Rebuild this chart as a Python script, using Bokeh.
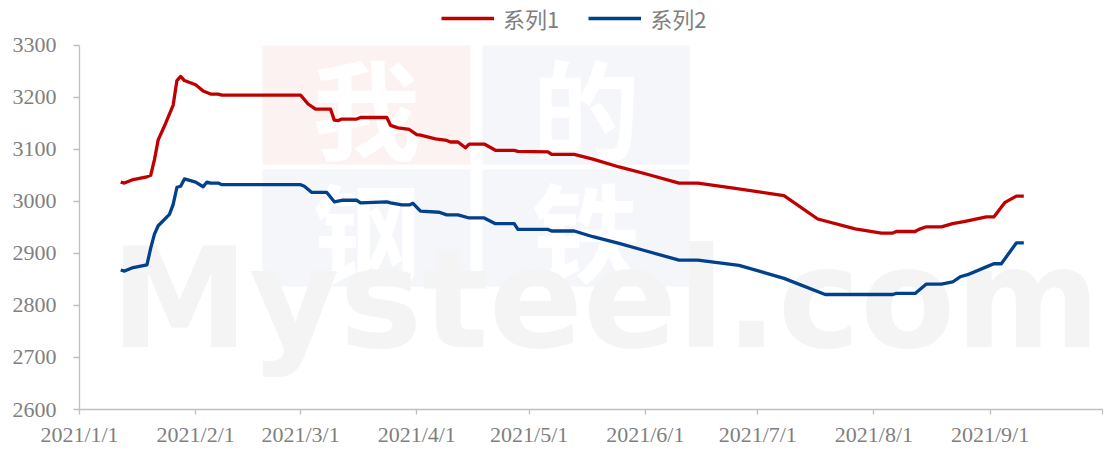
import pandas as pd
from bokeh.plotting import figure
from bokeh.models import (FixedTicker, Legend, LegendItem, BoxAnnotation, Label, Range1d)
from bokeh.embed import file_html
from bokeh.resources import INLINE

series_names = ["系列1", "系列2"]

series1_dates = ["2021-01-12", "2021-01-13", "2021-01-15", "2021-01-19", "2021-01-20", "2021-01-21",
                 "2021-01-22", "2021-01-24", "2021-01-26", "2021-01-27", "2021-01-28", "2021-01-29",
                 "2021-02-01", "2021-02-03", "2021-02-05", "2021-02-07", "2021-02-08", "2021-03-01",
                 "2021-03-03", "2021-03-05", "2021-03-09", "2021-03-10", "2021-03-11", "2021-03-12",
                 "2021-03-16", "2021-03-17", "2021-03-24", "2021-03-25", "2021-03-27", "2021-03-30",
                 "2021-04-01", "2021-04-02", "2021-04-06", "2021-04-09", "2021-04-10", "2021-04-12",
                 "2021-04-14", "2021-04-15", "2021-04-19", "2021-04-22", "2021-04-27", "2021-04-28",
                 "2021-05-06", "2021-05-07", "2021-05-13", "2021-05-18", "2021-05-25", "2021-06-01",
                 "2021-06-10", "2021-06-15", "2021-06-25", "2021-07-08", "2021-07-17", "2021-07-27",
                 "2021-08-03", "2021-08-06", "2021-08-07", "2021-08-12", "2021-08-13", "2021-08-15",
                 "2021-08-19", "2021-08-22", "2021-08-25", "2021-08-31", "2021-09-02", "2021-09-05",
                 "2021-09-08", "2021-09-10"]
series1_values = [3037, 3035, 3041, 3047, 3050, 3080,
                  3118, 3150, 3185, 3232, 3240, 3232,
                  3224, 3212, 3206, 3206, 3204, 3204,
                  3187, 3177, 3177, 3156, 3155, 3158,
                  3158, 3161, 3161, 3146, 3141, 3138,
                  3128, 3127, 3120, 3117, 3114, 3114,
                  3103, 3110, 3110, 3098, 3098, 3096,
                  3095, 3090, 3090, 3081, 3066, 3053,
                  3035, 3035, 3025, 3011, 2966, 2947,
                  2939, 2939, 2942, 2942, 2946, 2951,
                  2951, 2957, 2961, 2970, 2970, 2998,
                  3010, 3010]

series2_dates = ["2021-01-12", "2021-01-13", "2021-01-15", "2021-01-19", "2021-01-20", "2021-01-21",
                 "2021-01-22", "2021-01-25", "2021-01-26", "2021-01-27", "2021-01-28", "2021-01-29",
                 "2021-02-01", "2021-02-03", "2021-02-04", "2021-02-05", "2021-02-07", "2021-02-08",
                 "2021-03-01", "2021-03-02", "2021-03-04", "2021-03-08", "2021-03-10", "2021-03-12",
                 "2021-03-16", "2021-03-17", "2021-03-24", "2021-03-25", "2021-03-28", "2021-03-30",
                 "2021-03-31", "2021-04-02", "2021-04-07", "2021-04-09", "2021-04-12", "2021-04-15",
                 "2021-04-19", "2021-04-22", "2021-04-27", "2021-04-28", "2021-05-06", "2021-05-07",
                 "2021-05-13", "2021-05-18", "2021-05-25", "2021-06-01", "2021-06-10", "2021-06-15",
                 "2021-06-26", "2021-07-08", "2021-07-19", "2021-08-06", "2021-08-07", "2021-08-12",
                 "2021-08-15", "2021-08-19", "2021-08-22", "2021-08-24", "2021-08-26", "2021-08-31",
                 "2021-09-02", "2021-09-04", "2021-09-08", "2021-09-10"]
series2_values = [2868, 2866, 2872, 2878, 2910, 2937,
                  2953, 2975, 2994, 3027, 3029, 3043,
                  3037, 3028, 3037, 3035, 3035, 3032,
                  3032, 3029, 3017, 3017, 2999, 3002,
                  3002, 2997, 2999, 2997, 2993, 2993,
                  2996, 2981, 2979, 2974, 2974, 2968,
                  2968, 2957, 2957, 2946, 2946, 2943,
                  2943, 2932, 2919, 2905, 2887, 2887,
                  2877, 2852, 2821, 2821, 2823, 2823,
                  2841, 2841, 2845, 2855, 2859, 2874,
                  2880, 2880, 2920, 2920]

x_tick_dates = ["2021-01-01", "2021-02-01", "2021-03-01", "2021-04-01", "2021-05-01",
                "2021-06-01", "2021-07-01", "2021-08-01", "2021-09-01", "2021-10-01"]
x_tick_labels = ["2021/1/1", "2021/2/1", "2021/3/1", "2021/4/1", "2021/5/1",
                 "2021/6/1", "2021/7/1", "2021/8/1", "2021/9/1", ""]
y_ticks = [2600, 2700, 2800, 2900, 3000, 3100, 3200, 3300]

watermark_chars = ["我", "的", "钢", "铁"]
watermark_text = "Mysteel.com"


def ms(d):
    return int(pd.Timestamp(d).value // 10**6)


x1 = pd.to_datetime(series1_dates)
x2 = pd.to_datetime(series2_dates)
tick_ms = [ms(d) for d in x_tick_dates]

# frame spans the full height above the x axis; the headroom above 3300 holds the legend
FIG_W, FIG_H = 1104, 449
BORDER_L, BORDER_R, BORDER_B = 79, 2, 37
AXIS_TOP_PX = 45
frame_h = FIG_H - BORDER_B
y_span = y_ticks[-1] - y_ticks[0]
y_end = y_ticks[0] + y_span * frame_h / (frame_h - AXIS_TOP_PX)

p = figure(width=FIG_W, height=FIG_H, x_axis_type="datetime", title=None,
           output_backend="svg", toolbar_location=None,
           x_range=Range1d(pd.Timestamp(x_tick_dates[0]), pd.Timestamp(x_tick_dates[-1])),
           y_range=Range1d(y_ticks[0], y_end),
           min_border_left=BORDER_L, min_border_right=BORDER_R, min_border_top=0,
           min_border_bottom=BORDER_B)
p.outline_line_color = None
p.xgrid.visible = False
p.ygrid.visible = False
p.background_fill_color = "white"
p.border_fill_color = "white"

# watermark (decoration, screen units relative to the frame's bottom-left)
blocks = [(183, 391, 364, 245, "#fdf2f2"), (403, 610, 364, 245, "#f4f6fa"),
          (183, 391, 240, 123, "#f4f6fa"), (403, 610, 240, 123, "#f4f6fa")]
for (l, r, t, b, c), ch in zip(blocks, watermark_chars):
    p.add_layout(BoxAnnotation(left=l, right=r, top=t, bottom=b,
                               left_units="screen", right_units="screen",
                               top_units="screen", bottom_units="screen",
                               fill_color=c, fill_alpha=1.0, line_color=None, level="underlay"))
    p.add_layout(Label(x=(l + r) / 2, y=(t + b) / 2, x_units="screen", y_units="screen",
                       text=ch, text_align="center", text_baseline="middle",
                       text_font="Noto Sans CJK SC", text_font_style="bold",
                       text_font_size="108px", text_color="white", level="underlay"))
p.add_layout(Label(x=526, y=111, x_units="screen", y_units="screen", text=watermark_text,
                   text_align="center", text_baseline="middle",
                   text_font="DejaVu Sans", text_font_style="bold",
                   text_font_size="139px", text_color="#f4f4f4", level="underlay"))

r1 = p.line(x1, series1_values, line_color="#c00000", line_width=3.3, line_join="round")
r2 = p.line(x2, series2_values, line_color="#00408c", line_width=3.3, line_join="round")

axis_color = "#bfbfbf"
label_color = "#7f7f7f"

p.xaxis.ticker = FixedTicker(ticks=tick_ms)
p.xaxis.major_label_overrides = {t: lab for t, lab in zip(tick_ms, x_tick_labels)}
p.xaxis.minor_tick_line_color = None
p.xaxis.major_tick_in = 0
p.xaxis.major_tick_out = 5
p.xaxis.major_label_standoff = 7

p.yaxis.ticker = FixedTicker(ticks=y_ticks)
p.yaxis.bounds = (y_ticks[0], y_ticks[-1])
p.yaxis.minor_tick_line_color = None
p.yaxis.major_tick_in = 0
p.yaxis.major_tick_out = 6
p.yaxis.major_label_standoff = 17

for ax in (p.xaxis, p.yaxis):
    ax.axis_line_color = axis_color
    ax.axis_line_width = 1.3
    ax.major_tick_line_color = axis_color
    ax.major_tick_line_width = 1.3
    ax.major_label_text_font = "Liberation Serif"
    ax.major_label_text_font_size = "22px"
    ax.major_label_text_color = label_color

legend = Legend(items=[LegendItem(label=series_names[0], renderers=[r1]),
                       LegendItem(label=series_names[1], renderers=[r2])],
                orientation="horizontal", location=(362, frame_h - 37),
                padding=0, margin=0, spacing=29, label_standoff=9,
                glyph_width=53, glyph_height=20, label_height=20,
                label_text_font="Noto Sans CJK SC", label_text_font_size="22px",
                label_text_color=label_color, border_line_color=None,
                background_fill_alpha=0)
p.add_layout(legend)

open("out.html", "w").write(file_html(p, INLINE))
